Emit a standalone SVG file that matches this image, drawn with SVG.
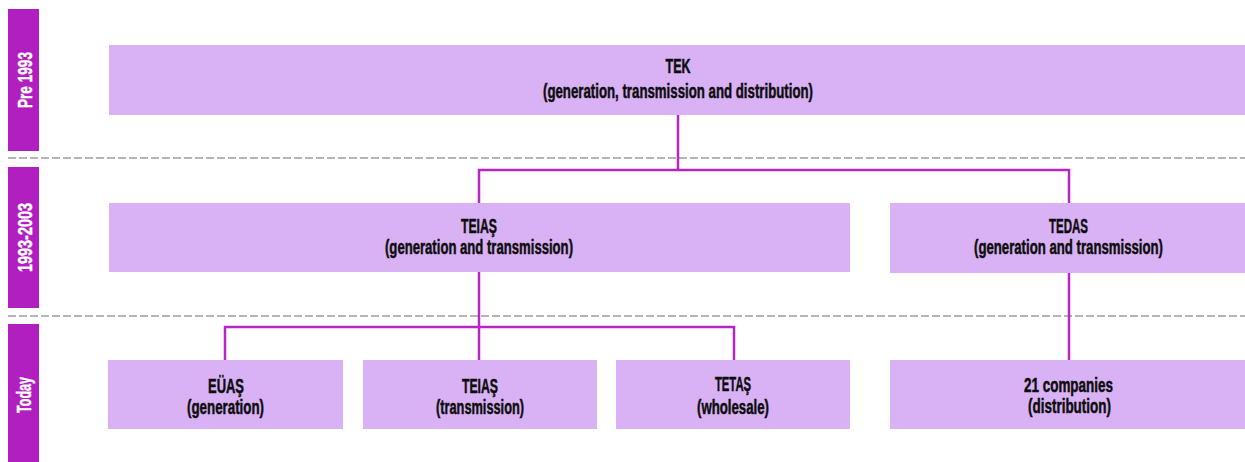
<svg xmlns="http://www.w3.org/2000/svg" width="1245" height="462" viewBox="0 0 1245 462">
<style>
.bar{fill:#b21fc0}
.box{fill:#d9b1f5}
.sep{stroke:#b5b5b5;stroke-width:2;stroke-dasharray:8 3;fill:none}
.con{stroke:#b925c4;stroke-width:2.5;fill:none}
.lbl{font-family:"Liberation Sans",Arial,sans-serif;font-weight:bold;font-size:20px;fill:#0d0d0d;stroke:#0d0d0d;stroke-width:0.5;text-anchor:middle}
.per{font-family:"Liberation Sans",Arial,sans-serif;font-weight:bold;font-size:21px;fill:#ffffff;stroke:#ffffff;stroke-width:0.4;text-anchor:middle}
</style>
<rect width="1245" height="462" fill="#ffffff"/>
<g id="periods">
<rect class="bar" x="8" y="9" width="31" height="142"/>
<rect class="bar" x="8" y="167" width="31" height="141"/>
<rect class="bar" x="8" y="324" width="31" height="138"/>
<text class="per" transform="translate(31.5,80) rotate(-90)" textLength="56" lengthAdjust="spacingAndGlyphs">Pre 1993</text>
<text class="per" transform="translate(31.5,237.5) rotate(-90)" textLength="69" lengthAdjust="spacingAndGlyphs">1993-2003</text>
<text class="per" transform="translate(31,395) rotate(-90)" textLength="36" lengthAdjust="spacingAndGlyphs">Today</text>
</g>
<g id="separators">
<line class="sep" x1="8" y1="158" x2="1245" y2="158"/>
<line class="sep" x1="8" y1="316" x2="1245" y2="316"/>
</g>
<g id="connectors">
<path class="con" d="M678 115 V170"/>
<path class="con" d="M479 203 V170 H1069 V203"/>
<path class="con" d="M479 272 V360"/>
<path class="con" d="M225 360 V327 H734 V360"/>
<path class="con" d="M1069 273 V360"/>
</g>
<g id="tek">
<rect class="box" x="109" y="45" width="1136" height="70"/>
<text class="lbl" x="678" y="73" textLength="25" lengthAdjust="spacingAndGlyphs">TEK</text>
<text class="lbl" x="678" y="98" textLength="270" lengthAdjust="spacingAndGlyphs">(generation, transmission and distribution)</text>
</g>
<g id="teias-1993">
<rect class="box" x="109" y="203" width="741" height="69"/>
<text class="lbl" x="479" y="233" textLength="36" lengthAdjust="spacingAndGlyphs">TEIAŞ</text>
<text class="lbl" x="479" y="254" textLength="188" lengthAdjust="spacingAndGlyphs">(generation and transmission)</text>
</g>
<g id="tedas">
<rect class="box" x="890" y="203" width="355" height="70"/>
<text class="lbl" x="1068.5" y="233" textLength="39" lengthAdjust="spacingAndGlyphs">TEDAS</text>
<text class="lbl" x="1068.5" y="254" textLength="189" lengthAdjust="spacingAndGlyphs">(generation and transmission)</text>
</g>
<g id="euas">
<rect class="box" x="108" y="360" width="235" height="69"/>
<text class="lbl" x="226" y="393" textLength="36" lengthAdjust="spacingAndGlyphs">EÜAŞ</text>
<text class="lbl" x="225.5" y="414" textLength="77" lengthAdjust="spacingAndGlyphs">(generation)</text>
</g>
<g id="teias-today">
<rect class="box" x="363" y="360" width="234" height="69"/>
<text class="lbl" x="480" y="393" textLength="36" lengthAdjust="spacingAndGlyphs">TEIAŞ</text>
<text class="lbl" x="480" y="414" textLength="88" lengthAdjust="spacingAndGlyphs">(transmission)</text>
</g>
<g id="tetas">
<rect class="box" x="616" y="360" width="234" height="69"/>
<text class="lbl" x="733" y="391" textLength="36" lengthAdjust="spacingAndGlyphs">TETAŞ</text>
<text class="lbl" x="733" y="414" textLength="72" lengthAdjust="spacingAndGlyphs">(wholesale)</text>
</g>
<g id="companies">
<rect class="box" x="890" y="360" width="355" height="69"/>
<text class="lbl" x="1068.5" y="392" textLength="89" lengthAdjust="spacingAndGlyphs">21 companies</text>
<text class="lbl" x="1069.5" y="413" textLength="83" lengthAdjust="spacingAndGlyphs">(distribution)</text>
</g>
</svg>
